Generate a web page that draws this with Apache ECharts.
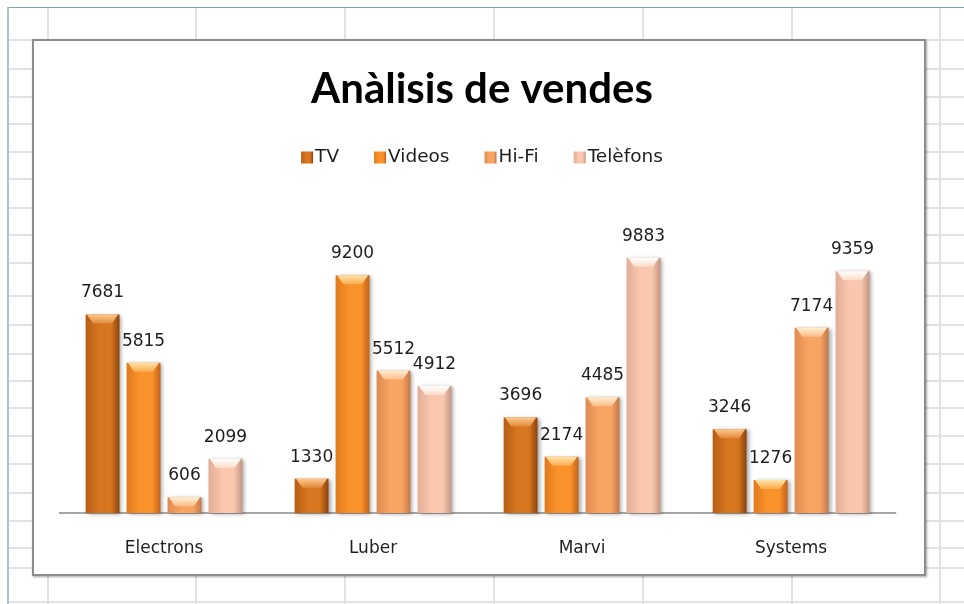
<!DOCTYPE html>
<html>
<head>
<meta charset="utf-8">
<script src="https://cdn.jsdelivr.net/npm/echarts@6/dist/echarts.min.js"></script>
<style>
  html, body { margin: 0; padding: 0; width: 964px; height: 604px; overflow: hidden; background: #fff; }
  #sheet { position: absolute; left: 0; top: 0; width: 964px; height: 604px; }
  .vl { position: absolute; width: 2px; background: #e0e2e3; }
  .hl { position: absolute; height: 2px; background: #e0e2e3; }
  #frameT { position: absolute; left: 8px; top: 7px; width: 956px; height: 1px; background: #7fa0ad; }
  #frameL { position: absolute; left: 7px; top: 7px; width: 2px; height: 597px; background: #a9c3cf; }
  #box { position: absolute; left: 32px; top: 39px; width: 890px; height: 533px; border: 2px solid #8d8d8d; background: #fff;
         box-shadow: 1px 1px 2px rgba(0,0,0,0.35); }
  #chart { position: absolute; left: 0; top: 0; width: 964px; height: 604px; }
</style>
</head>
<body>
<div id="sheet"></div>
<div id="frameT"></div>
<div id="frameL"></div>
<div id="box"></div>
<div id="chart"></div>
<script>
// ---- data ----
const categories = ['Electrons', 'Luber', 'Marvi', 'Systems'];
const seriesNames = ['TV', 'Videos', 'Hi-Fi', 'Telèfons'];
const tvValues = [7681, 1330, 3696, 3246];
const videosValues = [5815, 9200, 2174, 1276];
const hifiValues = [606, 5512, 4485, 7174];
const telefonsValues = [2099, 4912, 9883, 9359];
const titleText = 'Anàlisis de vendes';

// ---- spreadsheet background (decoration) ----
const sheet = document.getElementById('sheet');
const vLines = [47, 195, 344, 493, 642, 791, 939];
const hLines = [39, 68, 96, 123, 151, 178, 207, 234, 262, 295, 324, 353, 380, 407, 435, 463, 492, 520, 547, 567, 601];
vLines.forEach(x => { const d = document.createElement('div'); d.className = 'vl'; d.style.left = x + 'px'; d.style.top = '8px'; d.style.height = '596px'; sheet.appendChild(d); });
hLines.forEach(y => { const d = document.createElement('div'); d.className = 'hl'; d.style.top = y + 'px'; d.style.left = '8px'; d.style.width = '956px'; sheet.appendChild(d); });

// ---- styles ----
const palettes = [
  { edgeL: '#b75c14', mid: '#d7761f', edgeR: '#8a420b', hi: ['#ffc98f', '#e08a3a'] },
  { edgeL: '#e17a1d', mid: '#fa922c', edgeR: '#c4621a', hi: ['#ffe3a8', '#fbaa4c'] },
  { edgeL: '#e08b52', mid: '#f8a463', edgeR: '#c4774a', hi: ['#fff0d6', '#fbbb86'] },
  { edgeL: '#e2ad97', mid: '#f8c7ad', edgeR: '#c49684', hi: ['#ffffff', '#fcdccb'] }
];
const valueSets = [tvValues, videosValues, hifiValues, telefonsValues];
const FONT = 'DejaVu Sans';

function hGrad(p) {
  return new echarts.graphic.LinearGradient(0, 0, 1, 0, [
    { offset: 0, color: p.edgeL },
    { offset: 0.4, color: p.mid },
    { offset: 0.75, color: p.mid },
    { offset: 1, color: p.edgeR }
  ]);
}

const series = [];
valueSets.forEach((vals, i) => {
  const p = palettes[i];
  series.push({
    name: seriesNames[i],
    type: 'bar',
    data: vals,
    barGap: '21%',
    barCategoryGap: '25%',
    itemStyle: {
      color: hGrad(p),
      shadowColor: 'rgba(0,0,0,0.35)',
      shadowBlur: 4,
      shadowOffsetX: 2,
      shadowOffsetY: 1
    },
    label: {
      show: true,
      position: 'top',
      distance: 13,
      fontFamily: FONT,
      fontSize: 17,
      color: '#1e1e1e'
    },
    emphasis: { disabled: true },
    z: 2
  });
});
valueSets.forEach((vals, i) => {
  const p = palettes[i];
  series.push({
    name: seriesNames[i] + '_bevel',
    type: 'pictorialBar',
    data: vals,
    barGap: '21%',
    barCategoryGap: '25%',
    symbol: 'path://M0,0 L100,0 L80,30 L20,30 Z',
    symbolSize: ['92%', 9],
    symbolPosition: 'end',
    symbolKeepAspect: false,
    itemStyle: {
      color: new echarts.graphic.LinearGradient(0, 0, 0, 1, [
        { offset: 0, color: p.hi[0] },
        { offset: 1, color: p.hi[1] }
      ])
    },
    silent: true,
    emphasis: { disabled: true },
    z: 3
  });
});

const chart = echarts.init(document.getElementById('chart'), null, { renderer: 'canvas' });
chart.setOption({
  backgroundColor: 'transparent',
  animation: false,
  title: {
    text: titleText,
    left: 'center',
    top: 63,
    textStyle: { fontFamily: 'Lato', fontWeight: 'bold', fontSize: 42, color: '#000' }
  },
  legend: {
    data: seriesNames,
    top: 143,
    left: 'center',
    itemWidth: 12,
    itemHeight: 12,
    itemGap: 35,
    icon: 'rect',
    textStyle: { fontFamily: FONT, fontSize: 18.5, color: '#1e1e1e', padding: [0, 0, 0, -3] },
    selectedMode: false
  },
  grid: { left: 59.5, right: 68.4, top: 203, bottom: 91, containLabel: false },
  xAxis: {
    type: 'category',
    data: categories,
    axisLine: { show: true, lineStyle: { color: '#8a8a8a', width: 1.5 } },
    axisTick: { show: false },
    axisLabel: { fontFamily: FONT, fontSize: 17, color: '#1e1e1e', margin: 27 }
  },
  yAxis: {
    type: 'value',
    min: 0,
    max: 12000,
    interval: 2000,
    show: false,
    splitLine: { show: false }
  },
  series: series
});
</script>
</body>
</html>
